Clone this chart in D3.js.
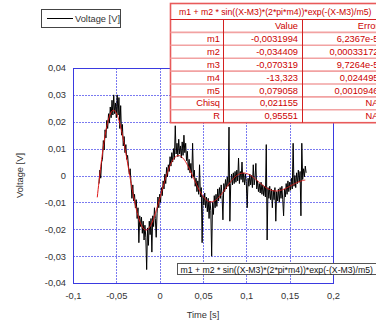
<!DOCTYPE html>
<html>
<head>
<meta charset="utf-8">
<script src="https://cdn.jsdelivr.net/npm/d3@7"></script>
<style>
  html, body { margin: 0; padding: 0; background: #fff; }
  svg { display: block; font-family: "Liberation Sans", Arial, sans-serif; }
</style>
</head>
<body>
<svg id="chart" width="376" height="324"></svg>
<script>
// Measured voltage, one sample per millisecond starting at t = -0.070 s
const tStart = -0.070;
const tStep = 0.001;
const voltage = [
  -0.0030, 0.0020, -0.0010, 0.0050, 0.0060, 0.0130, 0.0095, 0.0170, 0.0140, 0.0205,
  0.0175, 0.0230, 0.0195, 0.0255, 0.0215, 0.0280, 0.0225, 0.0300, 0.0230, 0.0270,
  0.0215, 0.0300, 0.0225, 0.0290, 0.0175, 0.0260, 0.0150, 0.0190, 0.0110, 0.0145,
  0.0085, 0.0115, 0.0060, 0.0075, 0.0035, 0.0005, 0.0025, -0.0030, -0.0085, -0.0035,
  -0.0095, -0.0070, -0.0120, -0.0090, -0.0160, -0.0120, -0.0250, -0.0150, -0.0190, -0.0155,
  -0.0215, -0.0170, -0.0240, -0.0185, -0.0230, -0.0350, -0.0195, -0.0260, -0.0170, -0.0220,
  -0.0160, -0.0285, -0.0150, -0.0190, -0.0120, -0.0160, -0.0230, -0.0140, -0.0080, -0.0120,
  -0.0070, -0.0100, -0.0045, -0.0075, -0.0020, -0.0050, 0.0005, -0.0030, 0.0030, -0.0005,
  0.0040, 0.0015, 0.0070, 0.0035, 0.0085, 0.0050, 0.0100, 0.0060, 0.0185, 0.0080,
  0.0120, 0.0070, 0.0135, 0.0080, 0.0110, 0.0065, 0.0125, 0.0075, 0.0150, 0.0085,
  0.0120, 0.0055, 0.0090, 0.0020, 0.0060, 0.0010, 0.0045, -0.0010, 0.0120, -0.0005,
  0.0020, -0.0040, -0.0010, -0.0060, -0.0020, -0.0070, 0.0040, -0.0080, -0.0045, -0.0250,
  -0.0075, -0.0110, -0.0065, -0.0120, -0.0080, -0.0135, -0.0085, -0.0160, -0.0095, -0.0130,
  -0.0300, -0.0100, -0.0145, -0.0075, -0.0120, -0.0070, -0.0115, -0.0050, -0.0095, -0.0045,
  -0.0085, -0.0035, -0.0075, -0.0165, -0.0030, -0.0060, -0.0015, -0.0050, -0.0005, -0.0040,
  0.0180, -0.0170, -0.0030, 0.0005, -0.0035, 0.0010, -0.0030, 0.0015, -0.0025, 0.0020,
  -0.0020, 0.0065, -0.0030, 0.0015, -0.0015, 0.0050, -0.0025, 0.0010, -0.0035, 0.0005,
  -0.0030, -0.0120, -0.0010, -0.0040, 0.0005, -0.0035, 0.0000, -0.0045, 0.0040, -0.0035,
  -0.0010, 0.0045, -0.0050, -0.0020, -0.0060, -0.0030, -0.0065, -0.0025, -0.0070, -0.0035,
  -0.0075, -0.0040, -0.0080, 0.0115, -0.0240, -0.0045, -0.0085, -0.0040, -0.0090, -0.0050,
  -0.0120, -0.0055, -0.0090, -0.0045, -0.0170, -0.0060, -0.0095, -0.0050, -0.0100, -0.0045,
  -0.0085, -0.0040, -0.0090, -0.0150, -0.0050, -0.0080, -0.0030, -0.0070, -0.0020, -0.0060,
  -0.0025, -0.0055, -0.0010, -0.0050, 0.0120, -0.0040, 0.0000, -0.0045, 0.0010, -0.0030,
  0.0020, -0.0025, 0.0015, -0.0150, 0.0120, -0.0015, 0.0025, -0.0005, 0.0035, 0.0010
];

// Damped-sine fit results
const fitFormula = "m1 + m2 * sin((X-M3)*(2*pi*m4))*exp(-(X-M3)/m5)";
const paramNames = ["m1", "m2", "m3", "m4", "m5", "Chisq", "R"];
const paramValues = [-0.0031994, -0.034409, -0.070319, -13.323, 0.079058, 0.021155, 0.95551];
const paramErrors = ["6,2367e-5", "0,00033172", "9,7264e-5", "0,024495", "0,0010946", "NA", "NA"];
const fitRange = [-0.072, 0.168];

// Axis ticks
const xTicks = [-0.1, -0.05, 0, 0.05, 0.1, 0.15, 0.2];
const yTicks = [-0.04, -0.03, -0.02, -0.01, 0, 0.01, 0.02, 0.03, 0.04];

const svg = d3.select("#chart");
const L = 73, R = 333, T = 68, B = 283;

const x = d3.scaleLinear().domain([-0.1, 0.2]).range([L, R]);
const y = d3.scaleLinear().domain([-0.04, 0.04]).range([B, T]);

const loc = d3.formatLocale({ decimal: ",", thousands: ".", grouping: [3], currency: ["", ""], minus: "-" });
const tickFmt = loc.format(".2~f");

// Dotted grid
const grid = svg.append("g").attr("stroke", "#7a7af0").attr("stroke-width", 1).attr("stroke-dasharray", "2,1");
grid.selectAll(".gx").data(xTicks.slice(1, -1)).join("line")
  .attr("x1", d => Math.round(x(d)) + 0.5).attr("x2", d => Math.round(x(d)) + 0.5)
  .attr("y1", T).attr("y2", B);
grid.selectAll(".gy").data(yTicks.slice(1, -1)).join("line")
  .attr("y1", d => Math.round(y(d)) + 0.5).attr("y2", d => Math.round(y(d)) + 0.5)
  .attr("x1", L).attr("x2", R);

// Frame
svg.append("rect").attr("x", L + 0.5).attr("y", T + 0.5)
  .attr("width", R - L).attr("height", B - T)
  .attr("fill", "none").attr("stroke", "#3a3ae0").attr("stroke-width", 1);

// Axes (labels only)
const xAxis = svg.append("g").attr("transform", `translate(0,${B})`)
  .call(d3.axisBottom(x).tickValues(xTicks).tickSize(0).tickPadding(9).tickFormat(tickFmt));
const yAxis = svg.append("g").attr("transform", `translate(${L},0)`)
  .call(d3.axisLeft(y).tickValues(yTicks).tickSize(0).tickPadding(7).tickFormat(tickFmt));
[xAxis, yAxis].forEach(a => {
  a.select(".domain").remove();
  a.selectAll("text").attr("font-size", 9.3).attr("fill", "#333")
    .attr("font-family", "'Liberation Sans', Arial, sans-serif");
});

// Axis titles
svg.append("text").attr("x", (L + R) / 2).attr("y", 318).attr("text-anchor", "middle")
  .attr("font-size", 9.3).attr("fill", "#333").text("Time [s]");
svg.append("text").attr("transform", `translate(23,${(T + B) / 2}) rotate(-90)`)
  .attr("text-anchor", "middle").attr("font-size", 9.3).attr("fill", "#333").text("Voltage [V]");

// Measured signal
const samples = voltage.map((v, i) => [tStart + i * tStep, v]);
svg.append("path").datum(samples)
  .attr("fill", "none").attr("stroke", "#000").attr("stroke-width", 1)
  .attr("d", d3.line().x(d => x(d[0])).y(d => y(d[1])));

// Fitted curve from the listed parameters
const [m1, m2, m3, m4, m5] = paramValues;
const fitFn = t => m1 + m2 * Math.sin((t - m3) * (2 * Math.PI * m4)) * Math.exp(-(t - m3) / m5);
const fitT = d3.range(fitRange[0], fitRange[1] + 1e-9, 0.0005);
svg.append("path").datum(fitT)
  .attr("fill", "none").attr("stroke", "#e01818").attr("stroke-width", 1)
  .attr("d", d3.line().x(t => x(t)).y(t => y(fitFn(t))));

// Legend
const leg = svg.append("g");
leg.append("rect").attr("x", 41.5).attr("y", 9.5).attr("width", 79).attr("height", 18)
  .attr("fill", "#fff").attr("stroke", "#444").attr("stroke-width", 1);
leg.append("line").attr("x1", 47).attr("x2", 73).attr("y1", 18.5).attr("y2", 18.5)
  .attr("stroke", "#000").attr("stroke-width", 1);
leg.append("text").attr("x", 75).attr("y", 22).attr("font-size", 9.3).attr("fill", "#333").text("Voltage [V]");

// Fit results table
const tbl = svg.append("g");
const tx0 = 170.5, tx1 = 223.5, tx2 = 302.5, tx3 = 381;
const ty0 = 3.5, tyTitle = 19.5, rowH = 12.9;
const nRows = paramNames.length + 1;
const tyEnd = tyTitle + nRows * rowH;
tbl.append("rect").attr("x", tx0).attr("y", ty0).attr("width", tx3 - tx0).attr("height", tyEnd - ty0)
  .attr("fill", "#fff").attr("stroke", "#e85a5a").attr("stroke-width", 1.6);
tbl.append("text").attr("x", 179).attr("y", 15)
  .attr("font-size", 8.7).attr("fill", "#cc0000").text(fitFormula);
tbl.append("line").attr("x1", tx0).attr("x2", tx3).attr("y1", tyTitle).attr("y2", tyTitle)
  .attr("stroke", "#d42020").attr("stroke-width", 1);
d3.range(1, nRows).forEach(i => {
  tbl.append("line").attr("x1", tx0).attr("x2", tx3)
    .attr("y1", tyTitle + i * rowH).attr("y2", tyTitle + i * rowH)
    .attr("stroke", "#f2a2a2").attr("stroke-width", 1.6);
});
[tx1, tx2].forEach(cx => {
  tbl.append("line").attr("x1", cx).attr("x2", cx).attr("y1", tyTitle).attr("y2", tyEnd)
    .attr("stroke", "#d42020").attr("stroke-width", 1);
});
const cellText = (cx, row, s) => tbl.append("text").attr("x", cx)
  .attr("y", tyTitle + (row + 1) * rowH - 3.4).attr("text-anchor", "end")
  .attr("font-size", 9.3).attr("fill", "#cc0000").text(s);
cellText(298, 0, "Value");
cellText(378.5, 0, "Error");
paramNames.forEach((n, i) => {
  cellText(220, i + 1, n);
  cellText(298, i + 1, String(paramValues[i]).replace(".", ","));
  cellText(378.5, i + 1, paramErrors[i]);
});

// Fit label box
const lab = svg.append("g");
lab.append("rect").attr("x", 177.5).attr("y", 263.5).attr("width", 205).attr("height", 11)
  .attr("fill", "#fff").attr("stroke", "#555").attr("stroke-width", 1);
lab.append("text").attr("x", 180.5).attr("y", 272.5).attr("font-size", 8.7).attr("fill", "#111").text(fitFormula);
</script>
</body>
</html>
